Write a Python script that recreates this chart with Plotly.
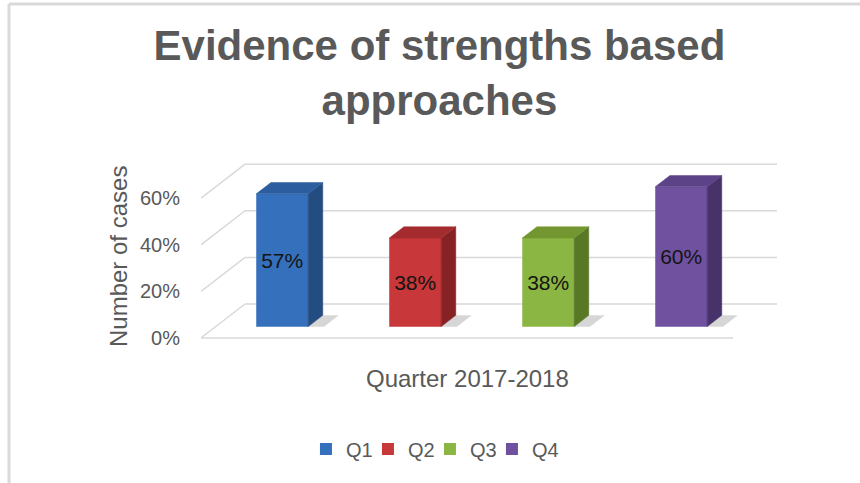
import plotly.graph_objects as go

# ---------------- data ----------------
quarters = ["Q1", "Q2", "Q3", "Q4"]
values = [57, 38, 38, 60]
value_labels = ["57%", "38%", "38%", "60%"]
tick_vals = [0, 20, 40, 60]
tick_text = ["0%", "20%", "40%", "60%"]

front_colors = ["#3570BC", "#C83739", "#8CB643", "#7051A0"]
side_colors = ["#234C80", "#862224", "#597826", "#47336A"]
top_colors = ["#2C5E9F", "#A42C2E", "#739630", "#5C4287"]

# ---------------- pseudo-3D geometry (data units) ----------------
DX = 0.331   # horizontal shift from front to back of floor
DY = 14.6    # vertical shift from front to back of floor
W = 0.39     # bar width
D0, D1 = 1 / 3, 2 / 3  # bar front / back depth fraction
X_LEFT, X_RIGHT = -0.5, 3.5

L, R, T, B = 201, 79, 150, 138
FW, FH = 860, 483
PW, PH = FW - L - R, FH - T - B


def px(xpix):
    return (xpix - L) / PW


def py(ypix):
    return (FH - B - ypix) / PH


fig = go.Figure()

# shadows on the floor
for i, v in enumerate(values):
    xr = i + W / 2
    xs = [xr + DX * D0, xr + DX * D0 + 0.12, xr + DX * D1 + 0.12, xr + DX * D1, xr + DX * D0]
    ys = [DY * D0, DY * D0, DY * D1, DY * D1, DY * D0]
    fig.add_trace(go.Scatter(x=xs, y=ys, mode="lines", fill="toself",
                             fillcolor="rgba(0,0,0,0.16)", line=dict(width=0),
                             showlegend=False, hoverinfo="skip"))

# front faces as real bars
for i, (q, v, lab) in enumerate(zip(quarters, values, value_labels)):
    fig.add_trace(go.Bar(
        x=[i + DX * D0], y=[v], base=[DY * D0], width=[W], name=q,
        marker=dict(color=front_colors[i], line=dict(width=0)),
        text=[lab], textposition="inside", insidetextanchor="middle",
        constraintext="none",
        textfont=dict(family="Liberation Sans", size=21, color="#141414"),
        hoverinfo="skip",
    ))

# empty spacer entry so the last legend label is not clipped
fig.add_trace(go.Bar(x=[None], y=[None], name=" ", showlegend=True,
                     marker=dict(color="rgba(0,0,0,0)",
                                 line=dict(width=0, color="rgba(0,0,0,0)")),
                     hoverinfo="skip"))

# side and top faces
for i, v in enumerate(values):
    xl, xr = i - W / 2, i + W / 2
    sx = [xr + DX * D0, xr + DX * D1, xr + DX * D1, xr + DX * D0, xr + DX * D0]
    sy = [DY * D0, DY * D1, v + DY * D1, v + DY * D0, DY * D0]
    fig.add_trace(go.Scatter(x=sx, y=sy, mode="lines", fill="toself",
                             fillcolor=side_colors[i],
                             line=dict(width=0.5, color=side_colors[i]),
                             showlegend=False, hoverinfo="skip"))
    tx = [xl + DX * D0, xr + DX * D0, xr + DX * D1, xl + DX * D1, xl + DX * D0]
    ty = [v + DY * D0, v + DY * D0, v + DY * D1, v + DY * D1, v + DY * D0]
    fig.add_trace(go.Scatter(x=tx, y=ty, mode="lines", fill="toself",
                             fillcolor=top_colors[i],
                             line=dict(width=0.5, color=top_colors[i]),
                             showlegend=False, hoverinfo="skip"))

# wall / floor grid lines
grid = dict(color="#d9d9d9", width=1.5)
shapes = []
for v in tick_vals:
    shapes.append(dict(type="line", xref="x", yref="y", layer="below",
                       x0=X_LEFT + DX, y0=v + DY, x1=X_RIGHT + DX, y1=v + DY, line=grid))
    shapes.append(dict(type="line", xref="x", yref="y", layer="below",
                       x0=X_LEFT, y0=v, x1=X_LEFT + DX, y1=v + DY, line=grid))
shapes.append(dict(type="line", xref="x", yref="y", layer="below",
                   x0=X_LEFT, y0=0, x1=X_RIGHT, y1=0, line=grid))
# outer frame (left and top)
frame = dict(color="#d9d9d9", width=3)
shapes.append(dict(type="line", xref="paper", yref="paper",
                   x0=px(9), y0=py(4), x1=px(9), y1=py(FH), line=frame))
shapes.append(dict(type="line", xref="paper", yref="paper",
                   x0=px(9), y0=py(4), x1=px(FW), y1=py(4), line=frame))

fig.update_layout(
    width=FW, height=FH,
    margin=dict(l=L, r=R, t=T, b=B),
    paper_bgcolor="white", plot_bgcolor="white",
    barmode="overlay",
    font=dict(family="Liberation Sans", color="#595959"),
    title=dict(text="Evidence of strengths based<br>approaches",
               xref="container", x=0.511, xanchor="center",
               yref="container", y=1 - 60 / FH, yanchor="top",
               font=dict(family="Liberation Sans", size=42, color="#595959", weight="bold")),
    xaxis=dict(range=[X_LEFT, X_LEFT + PW / 133.0], showgrid=False, zeroline=False,
               showticklabels=False, showline=False, fixedrange=True),
    yaxis=dict(range=[-(345 - 338) / 2.33, (338 - 150) / 2.33], showgrid=False,
               zeroline=False, showline=False, tickmode="array",
               tickvals=tick_vals, ticktext=tick_text, ticks="",
               ticklabelstandoff=20,
               tickfont=dict(size=20, color="#595959")),
    legend=dict(orientation="h", xref="container", x=0.536, xanchor="center",
                yref="container", y=1 - 449 / FH, yanchor="middle",
                font=dict(size=20, color="#595959"),
                itemwidth=30, entrywidth=17, traceorder="normal"),
    annotations=[
        dict(text="Number of cases", xref="paper", yref="paper",
             x=px(118), y=py(257), xanchor="center", yanchor="middle",
             textangle=-90, showarrow=False,
             font=dict(size=24, color="#595959")),
        dict(text="Quarter 2017-2018", xref="paper", yref="paper",
             x=px(467), y=py(378), xanchor="center", yanchor="middle",
             showarrow=False,
             font=dict(size=24, color="#595959")),
    ],
    shapes=shapes,
    showlegend=True,
)

fig.write_html("out.html")
